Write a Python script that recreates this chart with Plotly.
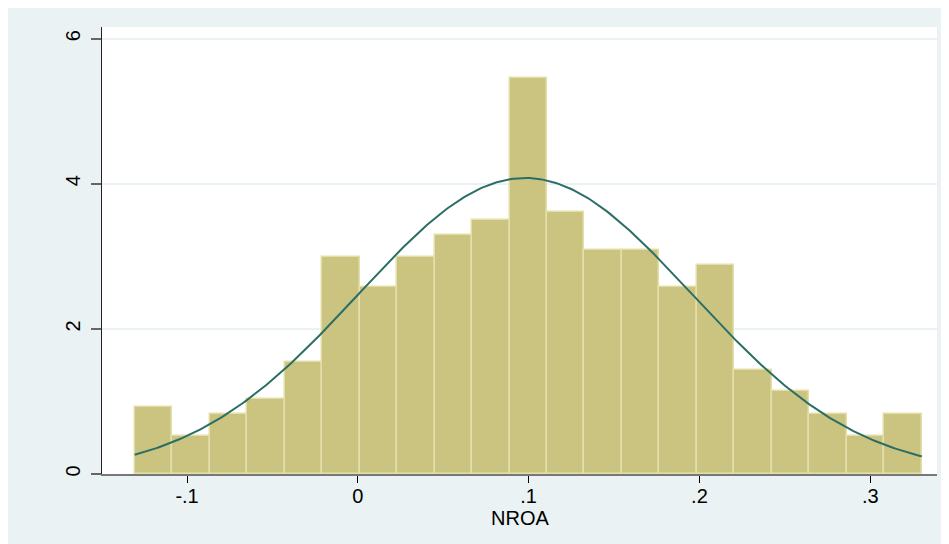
import numpy as np
import plotly.graph_objects as go

# ---- data ----
bin_start = -0.1307          # left edge of first bin (NROA)
bin_width = 0.02195          # bin width
density = [0.92, 0.52, 0.83, 1.03, 1.55, 2.99, 2.58, 2.99, 3.30, 3.50,
           5.46, 3.61, 3.09, 3.09, 2.58, 2.88, 1.44, 1.14, 0.83, 0.52, 0.83]
norm_mean = 0.098            # normal overlay parameters
norm_sd = 0.0978
x_ticks = [-0.1, 0, 0.1, 0.2, 0.3]
x_tick_labels = ["-.1", "0", ".1", ".2", ".3"]
y_ticks = [0, 2, 4, 6]
y_tick_labels = ["0", "2", "4", "6"]
x_title = "NROA"

n_bins = len(density)
centers = bin_start + bin_width * (np.arange(n_bins) + 0.5)
bin_end = bin_start + bin_width * n_bins
xc = np.linspace(bin_start, bin_end, 300)
yc = np.exp(-0.5 * ((xc - norm_mean) / norm_sd) ** 2) / (norm_sd * np.sqrt(2 * np.pi))

fig = go.Figure()
fig.add_trace(go.Bar(
    x=centers, y=density, width=bin_width,
    marker=dict(color="#CBC380", line=dict(color="#E4DFA8", width=1.5)),
    showlegend=False, hoverinfo="x+y"))
fig.add_trace(go.Scatter(
    x=xc, y=yc, mode="lines",
    line=dict(color="#2B6E66", width=2),
    showlegend=False, hoverinfo="skip"))

font = "Liberation Sans, Arial, sans-serif"
fig.update_layout(
    width=949, height=544,
    margin=dict(l=94, r=20, t=19, b=78),
    paper_bgcolor="#EAF2F3", plot_bgcolor="white",
    bargap=0,
    font=dict(family=font, size=20, color="black"),
    annotations=[dict(text=x_title, xref="paper", yref="paper",
                      x=0.5, y=-0.098, xanchor="center", yanchor="middle",
                      showarrow=False, font=dict(size=20))],
    xaxis=dict(
        range=[-0.1498, 0.3391],
        tickvals=x_ticks, ticktext=x_tick_labels,
        ticks="outside", ticklen=7, tickcolor="black", tickwidth=1,
        showgrid=False, zeroline=False,
        showline=True, linecolor="#777777", linewidth=2,
        tickfont=dict(size=20),
        ticklabelstandoff=-4,
    ),
    yaxis=dict(
        range=[0, 6.16],
        tickvals=y_ticks, ticktext=y_tick_labels,
        ticks="outside", ticklen=10, tickcolor="#666666", tickwidth=1.5,
        tickangle=-90,
        showgrid=True, gridcolor="#EAF2F3", gridwidth=1.5,
        zeroline=False,
        showline=True, linecolor="#222222", linewidth=1,
        tickfont=dict(size=20),
        ticklabelstandoff=3,
    ),
)

fig.write_html("out.html")
